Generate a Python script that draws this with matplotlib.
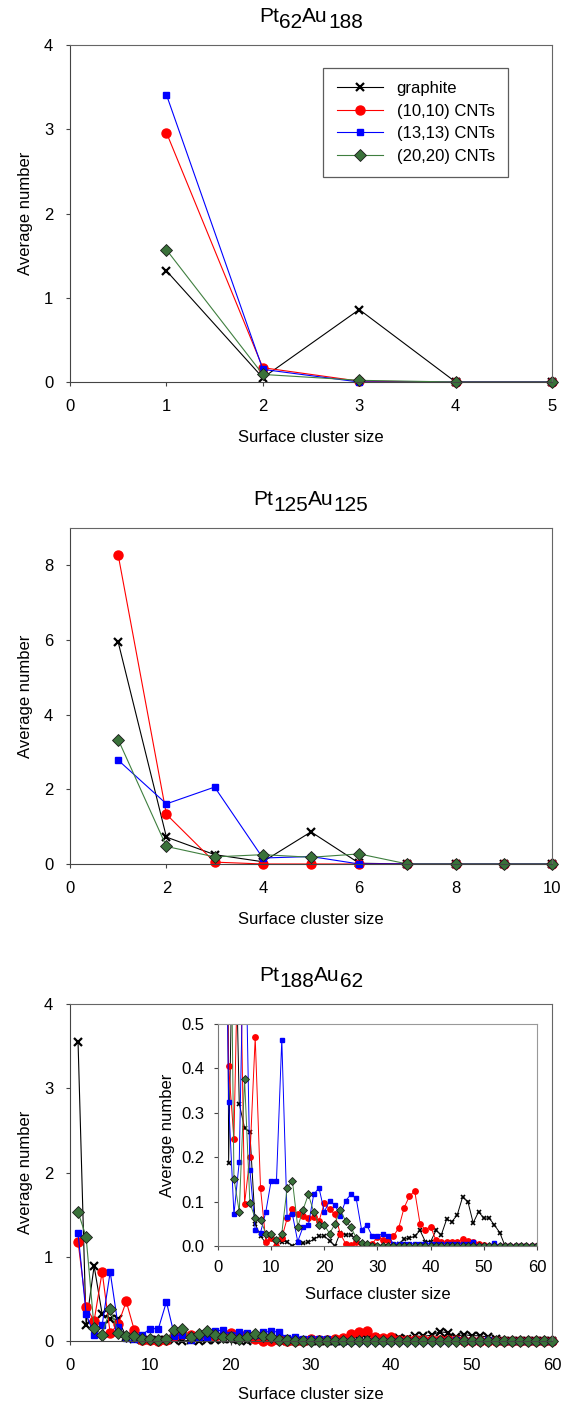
#cluster size distributions for the three PtAu compositions
from matplotlib import pyplot as plt
import numpy as np

plt.rcParams['font.family'] = ['Liberation Sans', 'DejaVu Sans']

#series names
NOMES = ["graphite", "(10,10) CNTs", "(13,13) CNTs", "(20,20) CNTs"]

#Pt62Au188, cluster size 1..5
x1 = [1, 2, 3, 4, 5]
graf1 = [1.32, 0.05, 0.86, 0.0, 0.0]
cnt10_1 = [2.96, 0.17, 0.01, 0.0, 0.0]
cnt13_1 = [3.41, 0.15, 0.0, 0.0, 0.0]
cnt20_1 = [1.57, 0.09, 0.02, 0.0, 0.0]

#Pt125Au125, cluster size 1..10
x2 = [1, 2, 3, 4, 5, 6, 7, 8, 9, 10]
graf2 = [5.94, 0.72, 0.25, 0.06, 0.86, 0.02, 0.0, 0.0, 0.0, 0.0]
cnt10_2 = [8.27, 1.33, 0.05, 0.0, 0.0, 0.0, 0.0, 0.0, 0.0, 0.0]
cnt13_2 = [2.78, 1.61, 2.06, 0.16, 0.2, 0.0, 0.0, 0.0, 0.0, 0.0]
cnt20_2 = [3.33, 0.47, 0.19, 0.25, 0.18, 0.27, 0.0, 0.0, 0.0, 0.0]

#Pt188Au62, cluster size 1..60
x3 = list(range(1, 61))
graf3 = [3.55, 0.187, 0.89, 0.32, 0.266, 0.256, 0.05, 0.022, 0.007, 0.015,
         0.012, 0.01, 0.01, 0.0, 0.008, 0.006, 0.008, 0.015, 0.022, 0.022,
         0.012, 0.0, 0.03, 0.025, 0.025, 0.015, 0.005, 0.0, 0.0, 0.0,
         0.0, 0.0, 0.0, 0.005, 0.015, 0.018, 0.022, 0.035, 0.01, 0.01,
         0.035, 0.025, 0.06, 0.055, 0.07, 0.11, 0.10, 0.052, 0.077, 0.063,
         0.063, 0.047, 0.03, 0.0, 0.0, 0.0, 0.0, 0.0, 0.0, 0.0]
cnt10_3 = [1.18, 0.405, 0.24, 0.82, 0.095, 0.2, 0.47, 0.13, 0.01, 0.018,
           0.0, 0.018, 0.062, 0.083, 0.071, 0.068, 0.062, 0.065, 0.056, 0.096,
           0.083, 0.071, 0.028, 0.005, 0.003, 0.009, 0.0, 0.0, 0.005, 0.02,
           0.014, 0.014, 0.022, 0.041, 0.086, 0.112, 0.124, 0.05, 0.037, 0.043,
           0.013, 0.01, 0.008, 0.008, 0.01, 0.015, 0.012, 0.008, 0.005, 0.003,
           0.0, 0.0, 0.0, 0.0, 0.0, 0.0, 0.0, 0.0, 0.0, 0.0]
cnt13_3 = [1.28, 0.325, 0.071, 0.19, 0.82, 0.172, 0.037, 0.03, 0.077, 0.147,
           0.147, 0.465, 0.065, 0.071, 0.01, 0.043, 0.047, 0.116, 0.131, 0.077,
           0.102, 0.092, 0.068, 0.102, 0.116, 0.107, 0.037, 0.047, 0.022, 0.022,
           0.028, 0.022, 0.005, 0.005, 0.005, 0.005, 0.005, 0.005, 0.005, 0.005,
           0.005, 0.005, 0.005, 0.005, 0.005, 0.005, 0.005, 0.008, 0.0, 0.0,
           0.0, 0.007, 0.0, 0.0, 0.0, 0.0, 0.0, 0.0, 0.0, 0.0]
cnt20_3 = [1.53, 1.24, 0.152, 0.077, 0.376, 0.097, 0.062, 0.059, 0.028, 0.028,
           0.013, 0.028, 0.131, 0.147, 0.043, 0.082, 0.116, 0.077, 0.047, 0.047,
           0.028, 0.05, 0.082, 0.056, 0.043, 0.018, 0.007, 0.005, 0.0, 0.0,
           0.0, 0.0, 0.0, 0.0, 0.0, 0.0, 0.0, 0.0, 0.0, 0.0,
           0.0, 0.0, 0.0, 0.0, 0.0, 0.0, 0.0, 0.0, 0.0, 0.0,
           0.0, 0.0, 0.0, 0.0, 0.0, 0.0, 0.0, 0.0, 0.0, 0.0]

VERDE = '#3f7f3f'
ESTILOS = [dict(color='black', marker='x', ms=5.5, mew=1.6),
           dict(color='red', marker='o', ms=6.5),
           dict(color='blue', marker='s', ms=4.5),
           dict(color=VERDE, marker='D', ms=6.5, mfc='#3a723a', mec='#1a1a1a', mew=0.6)]

FONTE = 12


def desenha(ax, x, series, escala=1.0, lw=0.8):
    for serie, estilo, nome in zip(series, ESTILOS, NOMES):
        e = dict(estilo)
        e['ms'] = e['ms'] * escala
        if escala < 1 and e['marker'] == 'x':
            e['mew'] = 1.2
        ax.plot(x, serie, lw=lw, label=nome, clip_on=False, **e)


def formata(ax, cor_borda='#444444', pad=9):
    for lado in ['top', 'right']:
        ax.spines[lado].set_color('#666666')
    for lado in ['left', 'bottom']:
        ax.spines[lado].set_color(cor_borda)
    ax.tick_params(direction='out', length=3, width=0.8, pad=pad, labelsize=FONTE,
                   color='#444444')


def titulo(fig, ax, partes, desce=4.5, tam=15):
    #partes = [(texto, subscrito?)]; subscritos no mesmo tamanho, so deslocados para baixo
    caixa = ax.get_position()
    xc = (caixa.x0 + caixa.x1) / 2
    yb = caixa.y1 + 0.0135
    textos = []
    anterior = None
    for texto, sub in partes:
        if anterior is None:
            t = fig.text(xc, yb, texto, fontsize=tam, ha='left', va='bottom')
        else:
            dy = (-desce if sub else 0) - (-desce if anterior[1] else 0)
            t = fig.add_artist(plt.Annotation(texto, xy=(1, 0), xycoords=anterior[0],
                                              xytext=(0, dy), textcoords='offset points',
                                              fontsize=tam, ha='left', va='bottom',
                                              annotation_clip=False))
        textos.append(t)
        anterior = (t, sub)
    fig.canvas.draw()
    r = fig.canvas.get_renderer()
    x0 = textos[0].get_window_extent(r).x0
    x1 = textos[-1].get_window_extent(r).x1
    largura = (x1 - x0) / fig.bbox.width
    textos[0].set_x(xc - largura / 2)


fig = plt.figure(figsize=(5.72, 14.06), dpi=100)

#painel 1
ax1 = fig.add_axes([0.1224, 0.7283, 0.8427, 0.2397])
desenha(ax1, x1, [graf1, cnt10_1, cnt13_1, cnt20_1])
ax1.set_xlim(0, 5)
ax1.set_ylim(0, 4)
ax1.set_xticks(range(0, 6))
ax1.set_yticks(range(0, 5))
ax1.set_xlabel("Surface cluster size", fontsize=FONTE, labelpad=12)
ax1.set_ylabel("Average number", fontsize=FONTE, labelpad=8)
formata(ax1)
leg = ax1.legend(loc='upper right', bbox_to_anchor=(0.909, 0.932), fontsize=FONTE,
                 fancybox=False, edgecolor='#333333', borderpad=0.8, borderaxespad=0,
                 labelspacing=0.45, handlelength=2.8, handletextpad=0.8)
leg.get_frame().set_linewidth(0.9)

#painel 2
ax2 = fig.add_axes([0.1224, 0.3855, 0.8427, 0.239])
desenha(ax2, x2, [graf2, cnt10_2, cnt13_2, cnt20_2])
ax2.set_xlim(0, 10)
ax2.set_ylim(0, 9)
ax2.set_xticks(range(0, 11, 2))
ax2.set_yticks(range(0, 9, 2))
ax2.set_xlabel("Surface cluster size", fontsize=FONTE, labelpad=12)
ax2.set_ylabel("Average number", fontsize=FONTE, labelpad=8)
formata(ax2)

#painel 3
ax3 = fig.add_axes([0.1224, 0.0462, 0.8427, 0.2397])
desenha(ax3, x3, [graf3, cnt10_3, cnt13_3, cnt20_3])
ax3.set_xlim(0, 60)
ax3.set_ylim(0, 4)
ax3.set_xticks(range(0, 61, 10))
ax3.set_yticks(range(0, 5))
ax3.set_xlabel("Surface cluster size", fontsize=FONTE, labelpad=10)
ax3.set_ylabel("Average number", fontsize=FONTE, labelpad=8)
formata(ax3)

#detalhe dentro do painel 3
ax4 = fig.add_axes([0.3811, 0.1138, 0.5577, 0.1579])
desenha(ax4, x3, [graf3, cnt10_3, cnt13_3, cnt20_3], escala=0.6, lw=0.7)
for linha in ax4.lines:
    linha.set_clip_on(True)
ax4.set_xlim(0, 60)
ax4.set_ylim(0, 0.5)
ax4.set_xticks(range(0, 61, 10))
ax4.set_yticks(np.arange(0, 0.51, 0.1))
ax4.set_yticklabels(["0.0", "0.1", "0.2", "0.3", "0.4", "0.5"])
ax4.set_xlabel("Surface cluster size", fontsize=FONTE, labelpad=9)
ax4.set_ylabel("Average number", fontsize=FONTE, labelpad=4)
formata(ax4, cor_borda='#777777', pad=7)
for lado in ['top', 'right']:
    ax4.spines[lado].set_color('#999999')

titulo(fig, ax1, [("Pt", False), ("62", True), ("Au", False), ("188", True)])
titulo(fig, ax2, [("Pt", False), ("125", True), ("Au", False), ("125", True)])
titulo(fig, ax3, [("Pt", False), ("188", True), ("Au", False), ("62", True)])

fig.savefig("out.png", dpi=100)
